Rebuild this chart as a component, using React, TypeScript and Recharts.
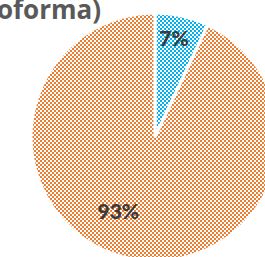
import { PieChart, Pie, Cell } from "recharts";

const categories = ["Otros", "Principal"];
const shares = [7, 93];
const sliceColors = ["#00B0F0", "#ED7D31"];
// label placement, as fraction of radius and angle shift (deg) from slice middle
const labelRadius = [0.82, 0.66];
const labelAngleShift = [1.8, -14];

const data = categories.map((name, i) => ({ name, value: shares[i] }));

const RAD = Math.PI / 180;

const renderLabel = (props: any) => {
  const { cx, cy, midAngle, outerRadius, index, value } = props;
  const a = (midAngle + labelAngleShift[index]) * RAD;
  const r = outerRadius * labelRadius[index];
  const x = cx + r * Math.cos(a);
  const y = cy - r * Math.sin(a);
  return (
    <text
      x={x}
      y={y}
      textAnchor="middle"
      dominantBaseline="central"
      fill="#3a3a3a"
      fontSize={21}
      fontWeight={900}
      fontFamily="Lato, 'Open Sans', sans-serif"
    >
      {`${value}%`}
    </text>
  );
};

export default function App() {
  return (
    <div style={{ position: "absolute", left: 0, top: 0, width: 265, height: 257, background: "#fff" }}>
      <svg width={0} height={0} style={{ position: "absolute" }}>
        <defs>
          {sliceColors.map((c, i) => (
            <pattern key={i} id={`chk${i}`} patternUnits="userSpaceOnUse" width={4} height={4}>
              <rect width={4} height={4} fill="#fff" />
              <rect x={0} y={0} width={2} height={2} fill={c} />
              <rect x={2} y={2} width={2} height={2} fill={c} />
            </pattern>
          ))}
        </defs>
      </svg>
      <PieChart width={265} height={257} margin={{ top: 0, right: 0, bottom: 0, left: 0 }}>
        <Pie
          data={data}
          dataKey="value"
          cx={155}
          cy={137}
          outerRadius={124}
          startAngle={90}
          endAngle={-270}
          stroke="#fff"
          strokeWidth={3}
          label={renderLabel}
          labelLine={false}
          isAnimationActive={false}
        >
          {data.map((_, i) => (
            <Cell key={i} fill={`url(#chk${i})`} />
          ))}
        </Pie>
      </PieChart>
      <svg width={265} height={257} style={{ position: "absolute", left: 0, top: 0, pointerEvents: "none" }}>
        <text
          x={101}
          y={19}
          textAnchor="end"
          fill="#595959"
          fontSize={26}
          fontWeight={700}
          fontFamily="'Open Sans', sans-serif"
        >
          (Proforma)
        </text>
      </svg>
    </div>
  );
}
